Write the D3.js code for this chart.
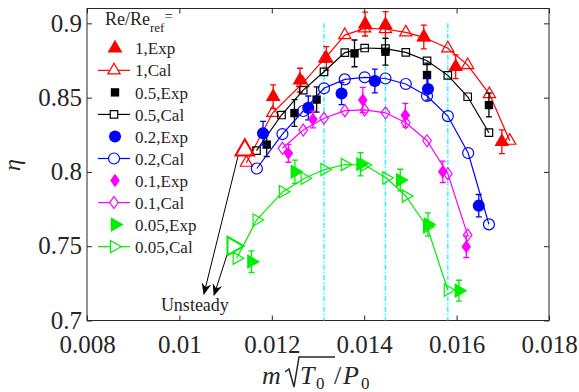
<!DOCTYPE html>
<html>
<head>
<meta charset="utf-8">
<script src="https://cdn.jsdelivr.net/npm/d3@7"></script>
<style>
body { margin: 0; background: #fff; }
text { font-family: "Liberation Serif", "Times New Roman", serif; fill: #262626; }
</style>
</head>
<body>
<svg id="chart" width="579" height="392"></svg>
<script>
// Re/Re_ref = 1
const redCalX = [0.01145, 0.01202, 0.01267, 0.01315, 0.01358, 0.01401, 0.01446, 0.01490, 0.01529, 0.01581, 0.01624, 0.01671, 0.01715];
const redCalY = [0.8062, 0.8398, 0.8598, 0.8764, 0.8921, 0.8966, 0.8962, 0.8939, 0.8906, 0.8832, 0.8719, 0.8524, 0.8210];
const redExpX = [0.01203, 0.01261, 0.01318, 0.01402, 0.01446, 0.01529, 0.01598, 0.01698];
const redExpY = [0.8506, 0.8618, 0.8764, 0.8995, 0.8989, 0.8908, 0.8708, 0.8203];
const redExpErr = [0.008, 0.008, 0.008, 0.008, 0.009, 0.008, 0.008, 0.008];
// Re/Re_ref = 0.5
const blackCalX = [0.011669, 0.01221, 0.01268, 0.01313, 0.01358, 0.01401, 0.01446, 0.0149, 0.01536, 0.01581, 0.01624, 0.0167];
const blackCalY = [0.8144, 0.8383, 0.8551, 0.8674, 0.8803, 0.8834, 0.883, 0.8805, 0.8748, 0.865, 0.8506, 0.8264];
const blackExpX = [0.01189, 0.01249, 0.01297, 0.01379, 0.01446, 0.01536, 0.0167];
const blackExpY = [0.8184, 0.8396, 0.8487, 0.8798, 0.8809, 0.8652, 0.845];
const blackExpErr = [0.008, 0.009, 0.0085, 0.009, 0.009, 0.008, 0.008];
// Re/Re_ref = 0.2
const blueCalX = [0.011676, 0.01223, 0.01268, 0.01313, 0.01358, 0.01401, 0.01446, 0.0149, 0.01536, 0.01581, 0.01625, 0.0167];
const blueCalY = [0.8023, 0.8255, 0.841, 0.8563, 0.8623, 0.8637, 0.8629, 0.8592, 0.8511, 0.8376, 0.8127, 0.7647];
const blueExpX = [0.01181, 0.01279, 0.01351, 0.01423, 0.01538, 0.01648];
const blueExpY = [0.826, 0.8431, 0.8528, 0.8612, 0.8558, 0.7773];
const blueExpErr = [0.008, 0.008, 0.0075, 0.008, 0.0075, 0.0075];
// Re/Re_ref = 0.1
const magentaCalX = [0.01223, 0.01268, 0.01313, 0.01358, 0.01401, 0.01446, 0.0149, 0.01536, 0.01581, 0.01624];
const magentaCalY = [0.8159, 0.8282, 0.8361, 0.8412, 0.8417, 0.8398, 0.8331, 0.821, 0.7988, 0.7575];
const magentaExpX = [0.01236, 0.01289, 0.01397, 0.01489, 0.0157, 0.01621];
const magentaExpY = [0.8125, 0.8354, 0.8484, 0.8381, 0.8001, 0.7497];
const magentaExpErr = [0.006, 0.0057, 0.0085, 0.008, 0.0072, 0.0073];
// Re/Re_ref = 0.05
const greenCalX = [0.01124, 0.01167, 0.01224, 0.01271, 0.01314, 0.01358, 0.01401, 0.01448, 0.0149, 0.01536, 0.01581];
const greenCalY = [0.7419, 0.7676, 0.7867, 0.7957, 0.8016, 0.805, 0.8046, 0.7959, 0.7838, 0.7631, 0.7205];
const greenExpX = [0.01156, 0.0125, 0.01392, 0.01478, 0.01538, 0.01605];
const greenExpY = [0.7396, 0.8001, 0.8052, 0.7945, 0.7646, 0.7201];
const greenExpErr = [0.0073, 0.0078, 0.0078, 0.0073, 0.0078, 0.007];

// surge points and arrows to "Unsteady"
const surgeX = [0.011416, 0.011157];
const surgeY = [0.8147, 0.7501];
const arrowX0 = [0.01127, 0.01105];
const arrowY0 = [0.8107, 0.7460];
const arrowX1 = [0.01053, 0.01075];
const arrowY1 = [0.7178, 0.7171];
const vlineX = [0.01313, 0.01446, 0.01581];

const xTicks = [0.008, 0.01, 0.012, 0.014, 0.016, 0.018];
const yTicks = [0.7, 0.75, 0.8, 0.85, 0.9];
const legendLabels = ["1,Exp", "1,Cal", "0.5,Exp", "0.5,Cal", "0.2,Exp", "0.2,Cal", "0.1,Exp", "0.1,Cal", "0.05,Exp", "0.05,Cal"];

const serif = "Liberation Serif, Times New Roman, serif";
const svg = d3.select("#chart");
const x = d3.scaleLinear().domain([0.008, 0.018]).range([87, 549]);
const y = d3.scaleLinear().domain([0.7, 0.91]).range([320.5, 8.5]);

const zip = (a, b) => a.map((v, i) => [v, b[i]]);

// marker shapes
function shape(kind, s) {
    if (kind === "tri" || kind === "rtri") return d3.symbol(d3.symbolTriangle, s)();
    if (kind === "sq") return d3.symbol(d3.symbolSquare, s)();
    if (kind === "circ") return d3.symbol(d3.symbolCircle, s)();
    if (kind === "dia") { const h = Math.sqrt(s) * 0.75, w = h * 0.72; return `M0,${-h}L${w},0L0,${h}L${-w},0Z`; }
}
function rot(kind) { return kind === "rtri" ? " rotate(90)" : ""; }

const series = [
    {color: "#ff0000", kind: "tri", calX: redCalX, calY: redCalY, expX: redExpX, expY: redExpY, err: redExpErr, fs: 95, os: 65},
    {color: "#000000", kind: "sq", calX: blackCalX, calY: blackCalY, expX: blackExpX, expY: blackExpY, err: blackExpErr, fs: 70, os: 56},
    {color: "#0000ff", kind: "circ", calX: blueCalX, calY: blueCalY, expX: blueExpX, expY: blueExpY, err: blueExpErr, fs: 115, os: 95},
    {color: "#ff00ff", kind: "dia", calX: magentaCalX, calY: magentaCalY, expX: magentaExpX, expY: magentaExpY, err: magentaExpErr, fs: 80, os: 64},
    {color: "#00ee00", kind: "rtri", calX: greenCalX, calY: greenCalY, expX: greenExpX, expY: greenExpY, err: greenExpErr, fs: 95, os: 65}
];

// frame and ticks
const g = svg.append("g");
g.append("rect").attr("x", 87).attr("y", 8.5).attr("width", 462).attr("height", 312)
    .attr("fill", "none").attr("stroke", "#262626").attr("stroke-width", 1);

const axB = g.append("g").attr("transform", "translate(0,320.5)")
    .call(d3.axisBottom(x).tickValues(xTicks).tickFormat(d3.format("~g")).tickSizeInner(-5).tickSizeOuter(0).tickPadding(15));
const axT = g.append("g").attr("transform", "translate(0,8.5)")
    .call(d3.axisTop(x).tickValues(xTicks).tickFormat("").tickSizeInner(-5).tickSizeOuter(0));
const axL = g.append("g").attr("transform", "translate(87,0)")
    .call(d3.axisLeft(y).tickValues(yTicks).tickFormat(d3.format("~g")).tickSizeInner(-5).tickSizeOuter(0).tickPadding(5));
const axR = g.append("g").attr("transform", "translate(549,0)")
    .call(d3.axisRight(y).tickValues(yTicks).tickFormat("").tickSizeInner(-5).tickSizeOuter(0));
[axB, axT, axL, axR].forEach(a => {
    a.attr("font-family", serif).attr("font-size", 25);
    a.select(".domain").remove();
    a.selectAll("line").attr("stroke", "#262626");
    a.selectAll("text").attr("fill", "#262626");
});
axL.selectAll("text").attr("dy", "0.31em");

// cyan reference lines
g.selectAll(".vline").data(vlineX).join("line")
    .attr("x1", d => x(d)).attr("x2", d => x(d))
    .attr("y1", y(0.9)).attr("y2", y(0.7))
    .attr("stroke", "#00ffff").attr("stroke-width", 1.3).attr("stroke-dasharray", "5,2,1.5,2");

// arrows
svg.append("defs").append("marker").attr("id", "arr")
    .attr("viewBox", "0 0 12 10").attr("refX", 11).attr("refY", 5)
    .attr("markerWidth", 12).attr("markerHeight", 10).attr("markerUnits", "userSpaceOnUse")
    .attr("orient", "auto")
    .append("path").attr("d", "M0,0 L12,5 L0,10 L4,5 Z").attr("fill", "#000");
g.selectAll(".arrow").data(arrowX0).join("line")
    .attr("x1", (d, i) => x(d)).attr("y1", (d, i) => y(arrowY0[i]))
    .attr("x2", (d, i) => x(arrowX1[i])).attr("y2", (d, i) => y(arrowY1[i]))
    .attr("stroke", "#000").attr("stroke-width", 1).attr("marker-end", "url(#arr)");
g.append("text").attr("x", x(0.010335)).attr("y", y(0.7064)).attr("text-anchor", "middle")
    .style("font-size", "18px").text("Unsteady");

// series
const line = d3.line().x(d => x(d[0])).y(d => y(d[1]));
series.forEach(s => {
    const sg = g.append("g");
    sg.append("path").datum(zip(s.calX, s.calY)).attr("d", line)
        .attr("fill", "none").attr("stroke", s.color).attr("stroke-width", 1.2);
    sg.selectAll(".cal").data(zip(s.calX, s.calY)).join("path")
        .attr("transform", d => `translate(${x(d[0])},${y(d[1])})` + rot(s.kind))
        .attr("d", shape(s.kind, s.os)).attr("fill", "none").attr("stroke", s.color).attr("stroke-width", 1.2);
    const ed = s.expX.map((v, i) => ({x: v, y: s.expY[i], e: s.err[i]}));
    sg.selectAll(".eb").data(ed).join("path")
        .attr("d", d => {
            const cx = x(d.x), y0 = y(d.y - d.e), y1 = y(d.y + d.e);
            return `M${cx},${y0}V${y1}M${cx - 3},${y0}H${cx + 3}M${cx - 3},${y1}H${cx + 3}`;
        })
        .attr("fill", "none").attr("stroke", s.color).attr("stroke-width", 1.3);
    sg.selectAll(".exp").data(ed).join("path")
        .attr("transform", d => `translate(${x(d.x)},${y(d.y)})` + rot(s.kind))
        .attr("d", shape(s.kind, s.fs)).attr("fill", s.color);
});

// surge markers (large open)
g.append("path").attr("transform", `translate(${x(surgeX[0])},${y(surgeY[0])})`)
    .attr("d", shape("tri", 150)).attr("fill", "none").attr("stroke", "#ff0000").attr("stroke-width", 2);
g.append("path").attr("transform", `translate(${x(surgeX[1])},${y(surgeY[1])}) rotate(90)`)
    .attr("d", shape("rtri", 150)).attr("fill", "none").attr("stroke", "#00ee00").attr("stroke-width", 2);

// legend
const lg = svg.append("g");
const title = lg.append("text").attr("x", 105).attr("y", 25).style("font-size", "18px");
title.append("tspan").text("Re/Re");
title.append("tspan").attr("dy", 7).style("font-size", "13px").text("ref");
title.append("tspan").attr("dy", -11).style("font-size", "15px").text("=");
legendLabels.forEach((lab, i) => {
    const s = series[Math.floor(i / 2)];
    const cy = 48.3 + i * 22.04;
    const isCal = i % 2 === 1;
    if (isCal) {
        lg.append("line").attr("x1", 98).attr("x2", 130).attr("y1", cy).attr("y2", cy)
            .attr("stroke", s.color).attr("stroke-width", 1.2);
        lg.append("path").attr("transform", `translate(114,${cy})` + rot(s.kind))
            .attr("d", shape(s.kind, s.os)).attr("fill", "#fff").attr("stroke", s.color).attr("stroke-width", 1.2);
    } else {
        lg.append("path").attr("transform", `translate(115,${cy})` + rot(s.kind))
            .attr("d", shape(s.kind, s.fs)).attr("fill", s.color);
    }
    lg.append("text").attr("x", 135).attr("y", cy).attr("dy", "0.36em").style("font-size", "17px").text(lab);
});

// axis labels
svg.append("text").attr("transform", "translate(20,165) rotate(-90)").attr("text-anchor", "middle")
    .style("font-size", "24px").style("font-style", "italic").text("η");
const xl = svg.append("g");
xl.append("text").attr("x", 262).attr("y", 384).style("font-size", "26px").style("font-style", "italic").text("m");
xl.append("path").attr("d", "M285,372 L289,369 L294,387 L299,357 L335,357")
    .attr("fill", "none").attr("stroke", "#262626").attr("stroke-width", 1.5);
xl.append("text").attr("x", 300).attr("y", 384).style("font-size", "26px").style("font-style", "italic").text("T");
xl.append("text").attr("x", 316).attr("y", 389).style("font-size", "17px").text("0");
xl.append("text").attr("x", 334).attr("y", 384).style("font-size", "26px").text("/");
xl.append("text").attr("x", 343).attr("y", 384).style("font-size", "26px").style("font-style", "italic").text("P");
xl.append("text").attr("x", 361).attr("y", 389).style("font-size", "17px").text("0");
</script>
</body>
</html>
